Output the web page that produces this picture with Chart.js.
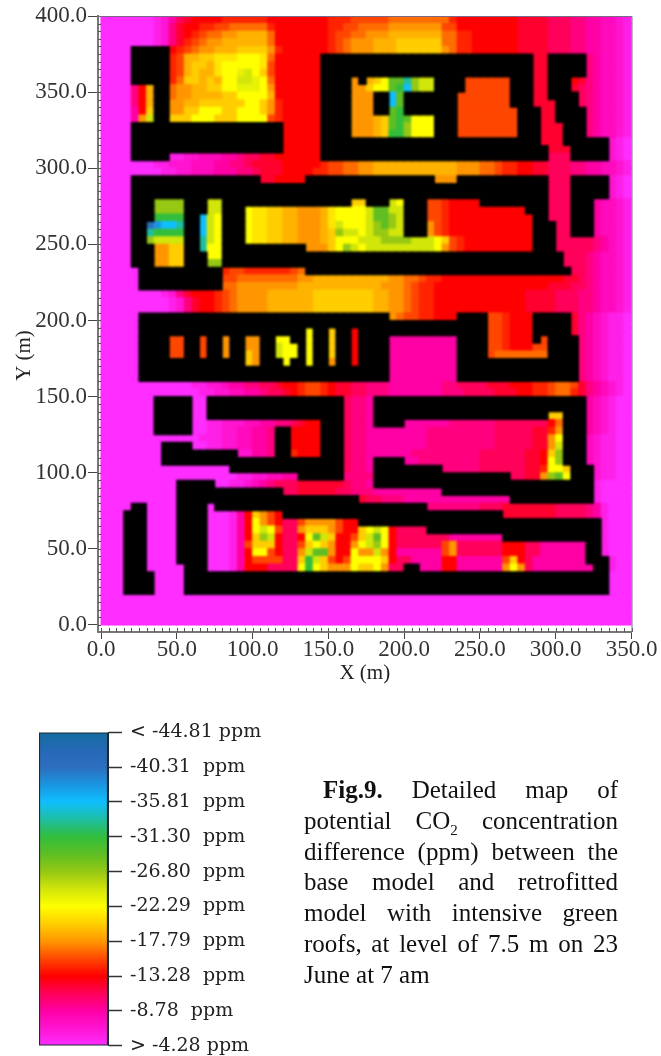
<!DOCTYPE html>
<html><head><meta charset="utf-8">
<style>
html,body{margin:0;padding:0;background:#fff;}
#page{position:relative;width:661px;height:1056px;overflow:hidden;}
canvas{position:absolute;display:block;}
#cap{position:absolute;left:304px;top:775px;width:314px;font:25px/30.8px "Liberation Serif",serif;color:#111;}
#cap span{display:block;text-align:justify;text-align-last:justify;white-space:nowrap;}
#cap span.first{padding-left:19px;}
#cap span.last{text-align:left;text-align-last:left;}
#cap sub{font-size:15px;line-height:0;}
</style></head><body>
<div id="page">
<canvas id="map" width="661" height="690" style="left:0;top:0"></canvas>
<canvas id="bar" width="320" height="352" style="left:0;top:713px"></canvas>
<div id="cap">
<span class="first"><b>Fig.9.</b> Detailed map of</span>
<span>potential CO<sub>2</sub> concentration</span>
<span>difference (ppm) between the</span>
<span>base model and retrofitted</span>
<span>model with intensive green</span>
<span>roofs, at level of 7.5 m on 23</span>
<span class="last">June at 7 am</span>
</div>
</div>
<script src="https://cdn.jsdelivr.net/npm/chart.js@4"></script>
<script>
// Grid of the map: 70 columns x 80 rows, 5 m per cell.
const cellSize = 5;
const xTicks = [0,50,100,150,200,250,300,350];
const yTicks = [0,50,100,150,200,250,300,350,400];
// Colour bar
const barTicks = [-44.81,-40.31,-35.81,-31.30,-26.80,-22.29,-17.79,-13.28,-8.78,-4.28];
const barLabels = ['< -44.81 ppm','-40.31  ppm','-35.81  ppm','-31.30  ppm','-26.80  ppm','-22.29  ppm','-17.79  ppm','-13.28  ppm','-8.78  ppm','> -4.28 ppm'];
const stopValues = [-44.81,-42,-40.31,-38,-35.81,-33.5,-31.3,-29,-26.8,-24.5,-22.29,-20,-17.79,-15.5,-13.28,-11,-8.78,-6.5,-4.28];
const stopColors = [[20,108,160],[40,105,185],[45,110,190],[25,150,225],[15,190,255],[30,190,160],[50,190,60],[95,190,35],[150,200,20],[210,230,10],[255,255,0],[255,205,0],[255,150,0],[255,70,0],[255,0,0],[255,0,90],[255,0,165],[255,20,210],[255,45,255]];
// Level codes used in the rows below (ppm); '#' = building, no value.
const levelCodes = 'aAbBcCdDeEfFgGhHiIjJkKlLmMnNoOpPq';
const levelValues = [-4.28,-5.4,-6.5,-7.6,-8.78,-9.9,-11,-12.1,-13.28,-14.4,-15.5,-16.6,-17.79,-18.9,-20,-21.1,-22.29,-23.4,-24.5,-25.6,-26.8,-27.9,-29,-30.1,-31.3,-32.4,-33.5,-34.6,-35.81,-36.9,-38,-39.1,-40.31];
// Each row, top to bottom: "<first column><level>" runs.
const cellRows = [
"0a 7A 8b 9c 10d 11D 12e 16E 22e 30E 33f 38F 46E 47e 55D 59d 62C 64c 66B 68b 69A",
"0a 7A 8b 9C 10D 11e 13E 15f 17F 22E 23e 30E 32f 34F 38g 45f 47e 55D 59d 62C 64c 66B 68b 69A",
"0a 7A 8b 9C 10D 11e 12E 13f 14F 16g 18G 22F 23e 30E 31f 33F 35g 38G 45F 47E 49e 55D 59d 62C 64c 66B 68b 69A",
"0a 7A 8b 9C 10D 11E 12f 13F 14g 16G 22F 23e 30E 31f 32F 33g 36G 39h 45F 47E 49e 55D 59d 62C 64c 66B 68b 69A",
"0a 4# 9e 10E 11f 12F 13g 15G 18h 22g 23E 24e 30E 31f 32F 33g 36G 39h 45g 46F 47E 49e 55D 59d 62C 64c 66B 68b 69A",
"0a 4# 9E 10f 11G 13h 15H 18i 21H 22F 23e 29# 57D 59# 64C 65c 66B 68b 69A",
"0a 4# 9E 10f 11G 12h 14G 15H 16i 21H 22f 23e 29# 57D 59# 64C 65c 66B 68b 69A",
"0a 4# 9E 10f 11G 12h 13G 15H 16i 18I 19j 20i 21h 22f 23e 29# 57D 59# 64C 65c 66B 68b 69A",
"0a 4# 9E 10F 11h 13G 14h 15G 16i 18j 20I 21i 22F 23e 29# 33g 34# 35G 36h 37i 38l 40n 41k 42j 44# 48f 54# 57D 59# 62e 63D 64C 65c 66B 68b 69A",
"0a 4C 5e 6G 7# 9F 10g 12G 14h 16i 18I 21i 22g 23e 29# 33g 35h 36i 38l 39m 40o 41k 42j 44# 48f 54# 57D 59# 62D 63d 64C 65c 66B 68b 69A",
"0a 4C 5e 6G 7# 9F 10g 12G 16h 18i 22G 23e 29# 33g 36# 38o 39l 40# 47f 54# 57D 59# 63d 64C 65c 66B 68b 69A",
"0a 4C 5e 6G 7# 9g 11G 13h 19i 21h 22g 23E 24e 29# 33g 36# 38o 39l 40# 47f 54# 57D 60# 63d 64C 65c 66B 68b 69A",
"0a 4c 5e 6h 7# 9g 11h 13i 16h 18i 21h 22g 23E 24e 29# 33g 36# 38l 39m 40# 47f 55# 58D 60# 64C 65c 66B 68b 69A",
"0a 4c 5g 6j 7# 9h 12i 15h 18i 22f 23E 24e 29# 33g 36G 37h 38l 39m 40l 41i 44# 47f 55# 58D 60# 64C 65c 66B 68b 69A",
"0a 4# 24e 29# 33g 36G 37h 38l 39m 40k 41i 44# 47f 55# 58D 61# 64C 65c 66B 68b 69A",
"0a 4# 24e 29# 33g 36G 37h 38m 40k 41i 44# 47f 55# 58D 61# 64C 65c 66B 68b 69A",
"0a 4# 24e 29# 58D 61# 67b 68A 69a",
"0a 4# 24e 29# 59D 62# 67b 68A 69a",
"0a 4# 9A 11b 13B 16c 18C 19d 21D 23e 29# 59d 62# 67b 68A 69a",
"0a 7A 9b 12B 15c 17C 19d 20D 24e 29E 30f 32F 34g 36G 47g 50F 52f 53E 55e 57D 59d 62C 64c 66B 68b 69A",
"0a 8A 10b 12B 15c 18C 20d 21D 24e 28E 30f 32F 34g 36G 47g 50F 52f 53E 55e 57D 59d 62C 64c 66B 68b 69A",
"0a 4# 21D 23e 27# 44g 47# 59d 62# 67b 68A 69a",
"0a 4# 59d 62# 67b 68A 69a",
"0a 4# 59d 62# 67b 68A 69a",
"0a 4# 7k 11# 14j 16# 33h 35# 38j 39i 40# 43f 45E 46e 50# 59d 62# 65c 66B 68b 69A",
"0a 4# 7k 11# 14j 16# 19i 20H 22h 24G 26g 29G 30H 31i 35j 36l 38j 40# 43f 45E 46e 56# 59d 62# 65c 66B 68b 69A",
"0a 4# 7m 11# 13o 14j 15i 16# 19i 20H 22h 24G 26g 29G 30H 31i 35j 36l 38k 39j 40# 43f 45E 46e 57# 59d 62# 65c 66B 68b 69A",
"0a 4# 6q 7p 8o 10n 11# 13o 14j 15i 16# 19i 20H 22h 24G 26g 29G 30H 31j 32i 35j 36k 37l 38k 39j 40# 43g 44f 45E 46e 57# 60d 62# 65c 66B 68b 69A",
"0a 4# 6n 7m 11# 13o 14j 15i 16# 19i 20H 22h 24G 26g 29G 30h 31k 32j 34i 35j 36k 38j 40# 43g 44f 45E 46e 57# 60d 62# 65c 66B 68b 69A",
"0a 4# 6k 7j 11# 13n 14j 15i 16# 19i 20H 22h 24G 26g 29G 30h 31i 34j 37k 41j 44i 45h 46f 47E 48e 57# 60d 65C 66c 67B 68b 69A",
"0a 4# 7g 9h 11# 13n 14i 16# 27g 30h 31i 32k 33j 34i 35j 44i 45g 46f 47E 48e 57# 60d 65C 66c 67B 68b 69A",
"0a 4# 7g 9h 11# 14i 16# 61d 64C 65c 66B 68b 69A",
"0a 4# 7g 9h 11# 14k 16# 61d 64C 65c 66B 68b 69A",
"0a 5# 16E 17f 19E 25f 26F 27# 62d 64C 65c 66B 68b 69A",
"0a 5# 16f 18F 26g 28G 38g 40F 42f 43E 45e 61D 63d 64C 65c 66B 68b 69A",
"0a 5# 16F 18g 26G 37g 40F 41f 42E 44e 59D 62d 64C 65c 66B 68b 69A",
"0a 8A 9b 10C 11D 12e 15E 16f 17F 18g 22G 28h 36G 38g 40F 41f 42E 44e 56D 60d 63C 65c 66B 68b 69A",
"0a 9A 10b 11C 12D 13e 15E 16f 17F 18g 22G 28h 36G 38g 40F 41f 42E 44e 56D 60d 63C 65c 66B 68b 69A",
"0a 9A 10b 11C 12D 13e 15E 16f 17F 18g 22G 28h 36G 38g 40F 41f 42E 44e 56D 60d 63C 65c 66B 68b 69A",
"0a 5# 38g 39F 40f 42E 44e 47# 51f 53E 54e 57# 62D 63C 64c 65B 66b 67A 69a",
"0a 5# 51f 53E 54e 57# 62D 63C 64c 65B 66b 67A 69a",
"0a 5# 27i 28# 30h 31# 33e 34# 51f 53E 54e 57# 62D 63C 64c 65B 66b 67A 69a",
"0a 5# 9f 11# 13f 14# 16g 17# 19g 21# 23i 25# 27i 28# 30h 31# 33e 34# 38c 47# 51f 53E 54e 57# 58f 59# 63C 64c 65B 66b 67A 69a",
"0a 5# 9f 11# 13f 14# 16g 17# 19g 21# 23j 24i 26# 27i 28# 30h 31# 33e 34# 38c 47# 51f 53E 54e 57f 59# 63C 64c 65B 66b 67A 69a",
"0a 5# 9f 11# 13f 14# 16g 17# 19h 20g 21# 23j 24i 26# 27i 28# 30h 31# 33e 34# 38c 47# 51f 52F 59# 63C 64c 65B 66b 67A 69a",
"0a 5# 19h 20g 21# 24i 25# 27i 28# 30g 31# 33e 34# 38c 47# 63C 64c 65B 66b 67A 69a",
"0a 5# 38c 47# 63C 64c 65B 66b 67A 69a",
"0a 5# 38c 47# 63C 64c 65B 66b 67A 69a",
"0a 12A 14b 16B 17c 19C 21d 23D 24e 26E 27f 29E 30e 31D 33d 35C 38c 45C 47d 51D 54e 57E 59f 60F 62f 63D 64C 65c 66B 67b 68A 69a",
"0a 13A 15b 17B 19c 21C 22d 24D 25e 26E 27f 29E 30e 31D 33d 35C 38c 45C 48d 52D 55e 57E 59f 60F 62E 63D 64C 65c 66B 67b 68A 69a",
"0a 7# 12a 14# 32d 33C 35c 36# 64c 65B 66b 67A 68a",
"0a 7# 12a 14# 32d 33C 35c 36# 64c 65B 66b 67A 68a",
"0a 7# 12a 14# 32d 33C 35c 36# 59h 61# 64c 65B 66b 67A 68a",
"0a 7# 12a 14A 16b 19B 21c 23C 25d 26D 27e 29# 32d 33C 35c 36# 40c 46C 52d 59e 60F 61# 64c 65B 66b 67A 68a",
"0a 7# 12a 14A 16b 18B 20c 22C 23# 25e 29# 32d 33C 35c 43C 52d 57D 59E 60g 61# 64c 65B 66b 67A 68a",
"0a 13A 16b 18B 20c 22C 23# 25e 29# 32d 33C 35c 43C 52d 57D 59g 60i 61# 64B 65b 66A 68a",
"0a 8# 12a 14A 16b 18B 20c 22C 23# 25e 29# 32d 33C 35c 43C 52d 57D 59g 60j 61# 64B 65b 66A 68a",
"0a 8# 18b 20c 22C 23# 25E 26e 29# 32d 33C 35c 41C 50d 56D 58e 59h 60k 61# 64B 65b 66A 68a",
"0a 8# 32d 33C 35c 36# 40c 42C 50d 56D 58e 59i 60k 61# 64B 65b 66A 68a",
"0a 17# 32d 33C 35c 36# 45C 50d 56D 58E 59i 61h 62# 65b 66A 68a",
"0a 18A 20b 22B 24c 26# 32C 36# 54d 56D 58g 59k 60l 61i 62# 65b 66A 68a",
"0a 10# 15a 17A 19b 20B 21c 22C 23d 26D 32d 33C 35c 36# 65A 66a",
"0a 10# 24d 26D 31d 33C 36c 45# 65A 66a",
"0a 10# 34D 35d 37C 40c 54# 65A 66a",
"0a 4# 6a 10# 14a 15# 43C 50d 53D 60d 64C 65c 66A 67a",
"0a 3# 6a 10# 14a 17A 18c 19e 20h 21g 22f 23e 24# 53D 60d 64C 65c 66A 67a",
"0a 3# 6a 10# 14a 17A 18c 19e 20i 21g 22f 23e 24d 26f 27g 31f 32e 34# 66A 67a",
"0a 3# 6a 10# 14a 17A 18c 19e 20i 21j 22i 23f 24d 26g 27h 30g 31f 32e 34h 35i 36j 37i 38e 39d 43# 66A 67a",
"0a 3# 6a 10# 14a 17A 18c 19e 20h 21k 22j 23e 24d 26e 27i 28l 29j 30h 31e 33f 34h 35j 36l 37i 38e 39d 46c 53# 66A 67a",
"0a 3# 6a 10# 14a 17A 18c 19f 20h 23e 24d 26f 27h 28i 29h 30g 31e 33g 34i 35j 36k 37i 38e 39d 45f 46g 47d 53e 56d 58c 64# 66A 67a",
"0a 3# 6a 10# 14a 17A 18c 19e 20i 22f 23e 24d 26g 27j 28l 30g 31e 33i 34g 36j 37g 38e 39c 45f 46g 47d 53e 56d 58c 64# 66A 67a",
"0a 3# 6a 10# 14a 17A 18c 19e 20f 24d 26h 27m 28j 29h 30f 31e 32f 33i 37h 38e 39d 41c 45e 47c 53f 54h 55e 56d 57c 64# 67A 68a",
"0a 3# 6a 11# 14a 17A 18c 19e 22d 26i 27m 28i 29h 30g 33i 34h 36i 37g 38d 40# 42c 45e 47c 53g 54i 55g 56d 57c 65# 67A 68a",
"0a 3# 7a 11# 67a",
"0a 3# 7a 11# 67a",
"0a 3# 7a 11# 67a",
"0a","0a","0a","0a"
];

function colorFor(v) {
  let i = 0;
  while (i < stopValues.length - 2 && v > stopValues[i + 1]) i++;
  const t = (v - stopValues[i]) / (stopValues[i + 1] - stopValues[i]);
  const c = stopColors[i].map((a, k) => Math.round(a + (stopColors[i + 1][k] - a) * t));
  return `rgb(${c[0]},${c[1]},${c[2]})`;
}

const columns = 70;
const heat = [], heatColors = [], buildings = [];
cellRows.forEach((row, r) => {
  const runs = row.split(' ').map(t => ({col: parseInt(t), code: t.slice(-1)}));
  runs.forEach((run, i) => {
    const end = i + 1 < runs.length ? runs[i + 1].col : columns;
    for (let c = run.col; c < end; c++) {
      const p = {x: (c + 0.5) * cellSize, y: 400 - (r + 0.5) * cellSize};
      if (run.code === '#') { buildings.push(p); continue; }
      const v = levelValues[levelCodes.indexOf(run.code)];
      heat.push({...p, v});
      heatColors.push(colorFor(v));
    }
  });
});

const serif = '"Liberation Serif", serif';
const cellRadius = 6.1;

const mapFinish = {
  id: 'mapFinish',
  afterDatasetsDraw(chart) {
    const {ctx, canvas, scales: {x, y}} = chart;
    // soften the cells a little, like the scanned original
    const rx = x.getPixelForValue(0), ry = y.getPixelForValue(400);
    const rw = x.getPixelForValue(350) - rx, rh = y.getPixelForValue(0) - ry;
    ctx.save();
    ctx.beginPath(); ctx.rect(rx, ry, rw, rh); ctx.clip();
    ctx.filter = 'blur(0.8px)';
    ctx.drawImage(canvas, 0, 0);
    ctx.restore();
    ctx.save();
    ctx.strokeStyle = '#555';
    ctx.lineWidth = 1;
    ctx.beginPath();
    for (let i = 0; i <= 70; i++) {
      const px = Math.round(x.getPixelForValue(i * cellSize)) + 0.5;
      const by = y.getPixelForValue(0);
      ctx.moveTo(px, by + 3); ctx.lineTo(px, by + 7);
    }
    for (let i = 0; i <= 80; i++) {
      const py = Math.round(y.getPixelForValue(i * cellSize)) + 0.5;
      const lx = x.getPixelForValue(-2);
      ctx.moveTo(lx, py); ctx.lineTo(lx + 3, py);
    }
    ctx.stroke();
    // thin frame on the top and right of the data area
    ctx.strokeStyle = '#7a6a8a';
    ctx.beginPath();
    const tx = x.getPixelForValue(350), ty = y.getPixelForValue(400);
    ctx.moveTo(x.getPixelForValue(-2), ty + 0.5); ctx.lineTo(tx + 0.5, ty + 0.5);
    ctx.lineTo(tx + 0.5, y.getPixelForValue(-4.6));
    ctx.stroke();
    ctx.restore();
  }
};

new Chart(document.getElementById('map'), {
  type: 'scatter',
  data: {datasets: [
    {label: 'Buildings', data: buildings, pointStyle: 'rect', pointRadius: cellRadius, pointHoverRadius: cellRadius, backgroundColor: '#000', borderWidth: 0, order: 1},
    {label: 'CO2 difference (ppm)', data: heat, pointStyle: 'rect', pointRadius: cellRadius, pointHoverRadius: cellRadius, backgroundColor: heatColors, borderWidth: 0, order: 2}
  ]},
  plugins: [mapFinish],
  options: {
    responsive: false, animation: false, events: [],
    layout: {padding: {left: 0, right: 29.5, top: 16, bottom: 0}, autoPadding: false},
    plugins: {legend: {display: false}, tooltip: {enabled: false}},
    scales: {
      x: {
        type: 'linear', min: -2, max: 350,
        afterBuildTicks: s => { s.ticks = xTicks.map(v => ({value: v})); },
        afterFit: s => { s.height = 58; },
        border: {color: '#777', width: 2},
        grid: {drawOnChartArea: false, tickLength: 7, tickColor: '#444', tickWidth: 1},
        ticks: {autoSkip: false, maxRotation: 0, padding: -3, color: '#333', font: {family: serif, size: 23}, callback: v => v.toFixed(1)},
        title: {display: true, text: 'X (m)', color: '#222', font: {family: serif, size: 21}, padding: {top: 0, bottom: 4}}
      },
      y: {
        type: 'linear', min: -4.6, max: 400,
        afterBuildTicks: s => { s.ticks = yTicks.map(v => ({value: v})); },
        afterFit: s => { s.width = 98; },
        border: {color: '#777', width: 2},
        grid: {drawOnChartArea: false, tickLength: 10, tickColor: '#444', tickWidth: 1},
        ticks: {autoSkip: false, padding: 1, color: '#333', font: {family: serif, size: 23}, callback: v => v.toFixed(1)},
        title: {display: true, text: 'Y (m)            ', color: '#222', font: {family: serif, size: 21}, padding: {top: 12, bottom: 0}}
      }
    }
  }
});

new Chart(document.getElementById('bar'), {
  type: 'bar',
  data: {labels: ['ppm'], datasets: [{
    data: [[barTicks[0], barTicks[barTicks.length - 1]]],
    barPercentage: 1, categoryPercentage: 1,
    borderColor: '#1c2a33', borderWidth: 1.5, borderSkipped: false,
    backgroundColor: c => {
      const {ctx, scales: {y}} = c.chart;
      if (!y || y.top === undefined) return '#000';
      const g = ctx.createLinearGradient(0, y.getPixelForValue(barTicks[0]), 0, y.getPixelForValue(barTicks[barTicks.length - 1]));
      const lo = stopValues[0], hi = stopValues[stopValues.length - 1];
      stopValues.forEach((v, i) => g.addColorStop((v - lo) / (hi - lo), `rgb(${stopColors[i].join(',')})`));
      return g;
    }
  }]},
  options: {
    responsive: false, animation: false, events: [],
    layout: {padding: {left: 39, right: 0, top: 16, bottom: 2}, autoPadding: false},
    plugins: {legend: {display: false}, tooltip: {enabled: false}},
    scales: {
      x: {display: false},
      y: {
        position: 'right', reverse: true, min: barTicks[0], max: barTicks[barTicks.length - 1],
        afterBuildTicks: s => { s.ticks = barTicks.map(v => ({value: v})); },
        afterFit: s => { s.width = 212; },
        border: {color: '#1c2a33', width: 1},
        grid: {drawOnChartArea: false, tickLength: 14, tickColor: '#333', tickWidth: 1.5},
        ticks: {autoSkip: false, padding: 8, color: '#222', font: {family: '"DejaVu Serif", serif', size: 19}, 
          callback: v => barLabels[barTicks.indexOf(v)]}
      }
    }
  }
});
</script>
</body></html>
